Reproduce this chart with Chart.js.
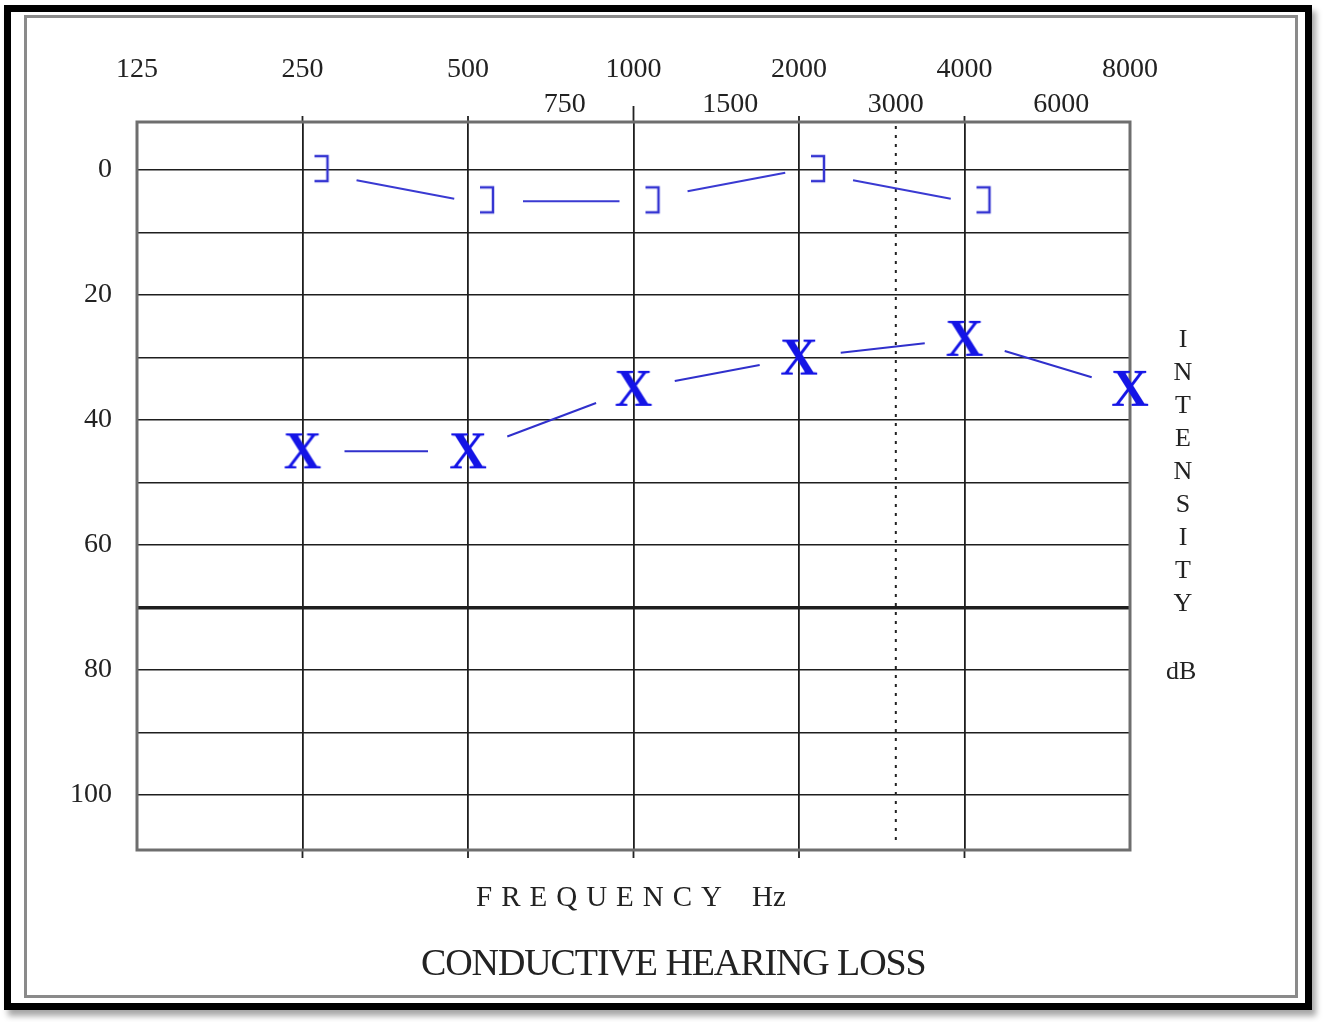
<!DOCTYPE html>
<html>
<head>
<meta charset="utf-8">
<script src="https://cdn.jsdelivr.net/npm/chart.js@4.4.1/dist/chart.umd.min.js"></script>
<style>
body{margin:0;background:#fff;width:1326px;height:1022px;position:relative;overflow:hidden;font-family:"Liberation Serif",serif;color:#222}
#outer{position:absolute;left:4px;top:5px;width:1294px;height:991px;border:7px solid #000;box-shadow:4px 6px 6px rgba(0,0,0,0.35)}
#inner{position:absolute;left:24px;top:15px;width:1268px;height:977px;border:3px solid #8a8a8a}
#chart{position:absolute;left:0;top:0}
.txt{position:absolute;white-space:nowrap;color:#222}
#intensity{left:1170px;top:322px;width:26px;font-size:26px;line-height:33px;text-align:center}
#db{left:1166px;top:656px;font-size:26px}
#freq{left:476px;top:880px;font-size:29px;letter-spacing:9px}
#hz{left:752px;top:880px;font-size:29px}
#title{left:421px;top:940px;font-size:38px;letter-spacing:-1.1px}
</style>
</head>
<body>
<div id="outer"></div>
<div id="inner"></div>
<canvas id="chart" width="1326" height="1022"></canvas>
<div class="txt" id="intensity">I<br>N<br>T<br>E<br>N<br>S<br>I<br>T<br>Y</div>
<div class="txt" id="db">dB</div>
<div class="txt" id="freq">FREQUENCY</div>
<div class="txt" id="hz">Hz</div>
<div class="txt" id="title">CONDUCTIVE HEARING LOSS</div>
<script>
// audiogram values
var airFreqs = [250, 500, 1000, 2000, 4000, 8000]
var airDb = [45, 45, 35, 30, 27, 35]
var boneFreqs = [250, 500, 1000, 2000, 4000]
var boneDb = [0, 5, 5, 0, 5]

var freqTicks = [125, 250, 500, 750, 1000, 1500, 2000, 3000, 4000, 6000, 8000]
var upperRow = [125, 250, 500, 1000, 2000, 4000, 8000]
var gridFreqs = [250, 500, 1000, 2000, 4000]
var dottedFreq = 3000
var dbTicks = [0, 10, 20, 30, 40, 50, 60, 70, 80, 90, 100]
var dbLabels = [0, 20, 40, 60, 80, 100]

function makeX(){
    var c = document.createElement('canvas')
    c.width = 60; c.height = 56
    var g = c.getContext('2d')
    g.fillStyle = '#1414e6'
    g.font = 'bold 52px "Liberation Serif"'
    g.textAlign = 'center'
    g.textBaseline = 'alphabetic'
    g.fillText('X', 30, 45)
    return c
}

function makeBracket(){
    var c = document.createElement('canvas')
    c.width = 70; c.height = 44
    var g = c.getContext('2d')
    g.strokeStyle = '#3535d2'
    g.lineWidth = 2.5
    g.beginPath()
    g.moveTo(35 + 12, 22 - 14)
    g.lineTo(35 + 25, 22 - 14)
    g.lineTo(35 + 25, 22 + 11)
    g.lineTo(35 + 12, 22 + 11)
    g.stroke()
    return c
}

function pts(xs, ys){
    var out = []
    for(i = 0; i < xs.length; i++){
        out.push({x: xs[i], y: ys[i]})
    }
    return out
}

// connecting lines with gaps around the symbols
var gapLines = {
    id: 'gapLines',
    beforeDatasetsDraw: function(chart){
        var ctx = chart.ctx
        chart.data.datasets.forEach(function(ds, k){
            var meta = chart.getDatasetMeta(k)
            ctx.save()
            ctx.strokeStyle = ds.lineColor
            ctx.lineWidth = 2
            for(i = 0; i < meta.data.length - 1; i++){
                var a = meta.data[i], b = meta.data[i + 1]
                var dx = b.x - a.x, dy = b.y - a.y
                var len = Math.sqrt(dx * dx + dy * dy)
                var t0 = ds.gapStart / len, t1 = 1 - ds.gapEnd / len
                ctx.beginPath()
                ctx.moveTo(a.x + dx * t0, a.y + dy * t0)
                ctx.lineTo(a.x + dx * t1, a.y + dy * t1)
                ctx.stroke()
            }
            ctx.restore()
        })
    }
}

// plot frame, dotted 3000 Hz line and small tick stubs
var frame = {
    id: 'frame',
    beforeDatasetsDraw: function(chart){
        var ctx = chart.ctx, a = chart.chartArea, xs = chart.scales.x
        ctx.save()
        var xd = xs.getPixelForValue(dottedFreq)
        ctx.strokeStyle = '#222'
        ctx.lineWidth = 2
        ctx.setLineDash([3, 6])
        ctx.beginPath()
        ctx.moveTo(xd, a.top + 4)
        ctx.lineTo(xd, a.bottom - 8)
        ctx.stroke()
        ctx.setLineDash([])
        ctx.lineWidth = 1.8
        gridFreqs.forEach(function(f){
            var x = xs.getPixelForValue(f)
            ctx.beginPath()
            ctx.moveTo(x, a.top - (f == 1000 ? 16 : 6))
            ctx.lineTo(x, a.top)
            ctx.moveTo(x, a.bottom)
            ctx.lineTo(x, a.bottom + 8)
            ctx.stroke()
        })
        ctx.strokeStyle = '#6e6e6e'
        ctx.lineWidth = 3
        ctx.strokeRect(a.left, a.top, a.right - a.left, a.bottom - a.top)
        ctx.restore()
    }
}

var ctx = document.getElementById('chart').getContext('2d')
var myChart = new Chart(ctx, {
    type: 'line',
    data: {
        datasets: [{
            label: 'Air conduction',
            data: pts(airFreqs, airDb),
            showLine: false,
            pointStyle: makeX(),
            pointRadius: 20,
            clip: false,
            lineColor: '#3030cc',
            gapStart: 42,
            gapEnd: 40
        }, {
            label: 'Bone conduction',
            data: pts(boneFreqs, boneDb),
            showLine: false,
            pointStyle: makeBracket(),
            pointRadius: 20,
            clip: false,
            lineColor: '#3a3ad2',
            gapStart: 55,
            gapEnd: 14
        }]
    },
    options: {
        responsive: false,
        animation: false,
        events: [],
        layout: {
            padding: {left: 20, right: 196, top: 42, bottom: 172}
        },
        plugins: {
            legend: {display: false},
            tooltip: {enabled: false}
        },
        scales: {
            x: {
                type: 'logarithmic',
                position: 'top',
                min: 125,
                max: 8000,
                afterBuildTicks: function(s){ s.ticks = freqTicks.map(function(v){ return {value: v} }) },
                afterFit: function(s){ s.height = 80 },
                border: {display: false},
                grid: {
                    drawTicks: false,
                    lineWidth: 1.8,
                    color: function(c){ return c.tick && gridFreqs.indexOf(c.tick.value) >= 0 ? '#1e1e1e' : 'rgba(0,0,0,0)' }
                },
                ticks: {
                    autoSkip: false,
                    maxRotation: 0,
                    minRotation: 0,
                    padding: 0,
                    color: '#222',
                    font: {family: 'Liberation Serif', size: 28, lineHeight: 1.25},
                    callback: function(v){
                        return upperRow.indexOf(v) >= 0 ? [String(v), ''] : ['', String(v)]
                    }
                }
            },
            y: {
                type: 'linear',
                reverse: true,
                min: -7.7,
                max: 108.8,
                afterBuildTicks: function(s){ s.ticks = dbTicks.map(function(v){ return {value: v} }) },
                afterFit: function(s){ s.width = 117 },
                border: {display: false},
                grid: {
                    drawTicks: false,
                    color: '#1e1e1e',
                    lineWidth: function(c){ return c.tick && c.tick.value == 70 ? 3.5 : 1.6 }
                },
                ticks: {
                    padding: 25,
                    color: '#222',
                    font: {family: 'Liberation Serif', size: 28},
                    callback: function(v){ return dbLabels.indexOf(v) >= 0 ? String(v) : '' }
                }
            }
        }
    },
    plugins: [frame, gapLines]
});
</script>
</body>
</html>
